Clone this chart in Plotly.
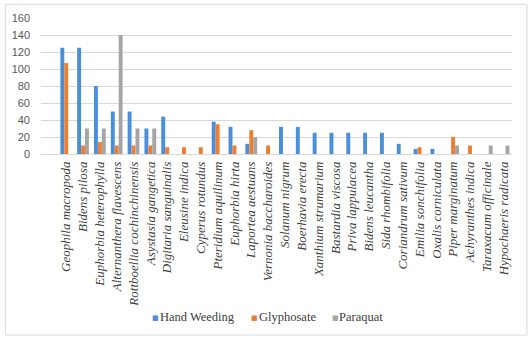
import plotly.graph_objects as go

species = ["Geophila macropoda", "Bidens pilosa", "Euphorbia heterophylla", "Alternanthera flavescens",
           "Rottboellia cochinchinensis", "Asystasia gangetica", "Digitaria sanguinalis", "Eleusine indica",
           "Cyperus rotundus", "Pteridium aquilinum", "Euphorbia hirta", "Laportea aestuans",
           "Vernonia baccharoides", "Solanum nigrum", "Boerhavia erecta", "Xanthium strumarium",
           "Bastardia viscosa", "Priva lappulacea", "Bidens leucantha", "Sida rhombifolia",
           "Coriandrum sativum", "Emilia sonchifolia", "Oxalis corniculata", "Piper marginatum",
           "Achyranthes indica", "Taraxacum officinale", "Hypochaeris radicata"]
hand_weeding = [125, 125, 80, 50, 50, 30, 44, 0, 0, 38, 32, 12, 0, 32, 32, 25, 25, 25, 25, 25, 12, 6, 6, 0, 0, 0, 0]
glyphosate = [107, 10, 14, 10, 10, 10, 8, 8, 8, 35, 10, 28, 10, 0, 0, 0, 0, 0, 0, 0, 0, 8, 0, 20, 10, 0, 0]
paraquat = [0, 30, 30, 140, 30, 30, 0, 0, 0, 0, 0, 20, 0, 0, 0, 0, 0, 0, 0, 0, 0, 0, 0, 10, 0, 10, 10]
y_ticks = [0, 20, 40, 60, 80, 100, 120, 140, 160]

series = [("Hand Weeding", hand_weeding, "#4a8fd9"),
          ("Glyphosate", glyphosate, "#ed7d31"),
          ("Paraquat", paraquat, "#a5a5a5")]

SERIF = "Liberation Serif, serif"

xs = list(range(len(species)))
fig = go.Figure()
for name, vals, col in series:
    fig.add_trace(go.Bar(x=xs, y=vals, name=name, showlegend=False,
                         marker=dict(color=col, line=dict(width=0))))

L, R, T, B = 37, 17, 15, 189
W, H = 529, 343
pw, ph = W - L - R, H - T - B

def px(x):
    return (x - L) / pw

def py(y):
    return (T + ph - y) / ph

# custom legend (marker square + text)
annotations = []
leg_marker_x = [148, 248, 329]
leg_y = 321
for (name, vals, col), mx in zip(series, leg_marker_x):
    annotations.append(dict(xref="paper", yref="paper", x=px(mx - 1), y=py(leg_y + 1), xanchor="left",
                            yanchor="middle", showarrow=False, text="■",
                            font=dict(family="DejaVu Sans", size=7, color=col)))
    annotations.append(dict(xref="paper", yref="paper", x=px(mx + 7), y=py(leg_y), xanchor="left",
                            yanchor="middle", showarrow=False, text=name,
                            font=dict(family=SERIF, size=12.5, color="#404040")))

fig.update_layout(
    width=W, height=H,
    margin=dict(l=L, r=R, t=T, b=B),
    paper_bgcolor="white", plot_bgcolor="white",
    barmode="group", bargap=0.3, bargroupgap=0,
    showlegend=False,
    xaxis=dict(range=[-1.5, len(species) - 0.5], tickmode="array", tickvals=xs,
               ticktext=["<i>" + s + "</i>" for s in species], tickangle=-90,
               tickfont=dict(family=SERIF, size=13, color="#404040"),
               ticklabelstandoff=4,
               showgrid=False, zeroline=False, showline=False, ticks=""),
    yaxis=dict(range=[0, 160], tickvals=y_ticks, showgrid=True, gridcolor="#d9d9d9", gridwidth=1,
               zeroline=True, zerolinecolor="#d9d9d9", zerolinewidth=1,
               tickfont=dict(family="Liberation Sans", size=11, color="#595959"), ticks="",
               ticklabelstandoff=10, showline=False),
    annotations=annotations,
    shapes=[dict(type="rect", xref="paper", yref="paper",
                 x0=px(1), x1=px(W - 2), y0=py(H - 4), y1=py(1),
                 line=dict(color="#d9d9d9", width=1), fillcolor="rgba(0,0,0,0)")],
)
fig.write_html("out.html")
